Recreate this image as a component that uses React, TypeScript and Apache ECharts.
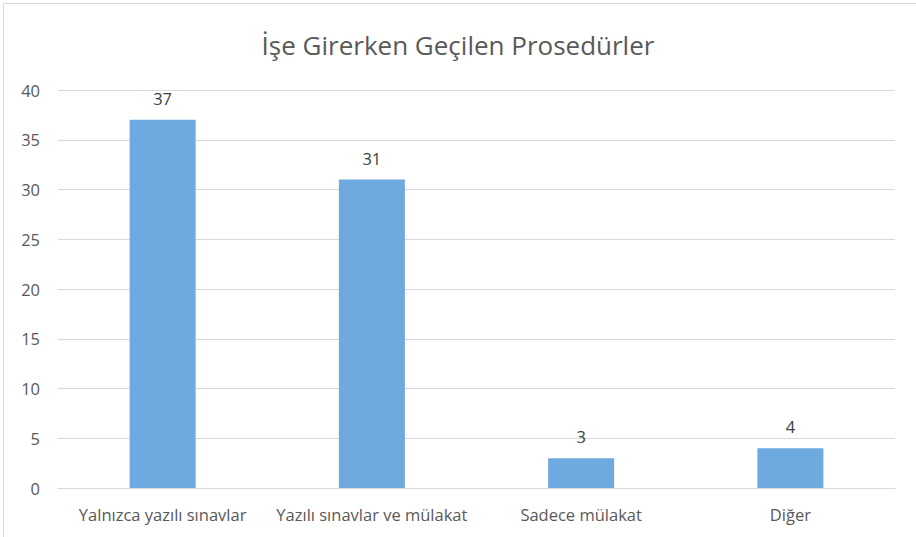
import React, { useEffect, useRef } from "react";
import * as echarts from "echarts";

const categories = ["Yalnızca yazılı sınavlar", "Yazılı sınavlar ve mülakat", "Sadece mülakat", "Diğer"];
const values = [37, 31, 3, 4];
const titleText = "İşe Girerken Geçilen Prosedürler";

export default function App() {
  const ref = useRef<HTMLDivElement>(null);
  useEffect(() => {
    const chart = echarts.init(ref.current!, null, { renderer: "svg" });
    const font = "'Open Sans', 'Noto Sans', sans-serif";
    chart.setOption({
      animation: false,
      backgroundColor: "#ffffff",
      title: {
        text: titleText,
        left: "center",
        top: 27,
        textStyle: { color: "#595959", fontSize: 26, fontWeight: "normal", fontFamily: font },
      },
      graphic: [
        {
          type: "rect",
          shape: { x: 3.5, y: 3.5, width: 960, height: 560 },
          style: { fill: "none", stroke: "#d9d9d9", lineWidth: 1 },
          silent: true,
        },
      ],
      grid: { left: 58, right: 21, top: 90, bottom: 49, containLabel: false },
      xAxis: {
        type: "category",
        data: categories,
        axisLine: { lineStyle: { color: "#d9d9d9" } },
        axisTick: { show: false },
        axisLabel: { color: "#595959", fontSize: 16.5, fontFamily: font, margin: 18, interval: 0 },
      },
      yAxis: {
        type: "value",
        min: 0,
        max: 40,
        interval: 5,
        axisLine: { show: false },
        axisTick: { show: false },
        splitLine: { lineStyle: { color: "#d9d9d9" } },
        axisLabel: { color: "#595959", fontSize: 16.5, fontFamily: font, margin: 18 },
      },
      series: [
        {
          type: "bar",
          data: values,
          barWidth: 66,
          itemStyle: { color: "#6eaadf" },
          label: {
            show: true,
            position: "top",
            distance: 13,
            color: "#404040",
            fontSize: 16.5,
            fontFamily: font,
          },
        },
      ],
    });
    return () => chart.dispose();
  }, []);
  return (
    <div
      ref={ref}
      style={{ position: "absolute", left: 0, top: 0, width: 916, height: 537 }}
    />
  );
}
